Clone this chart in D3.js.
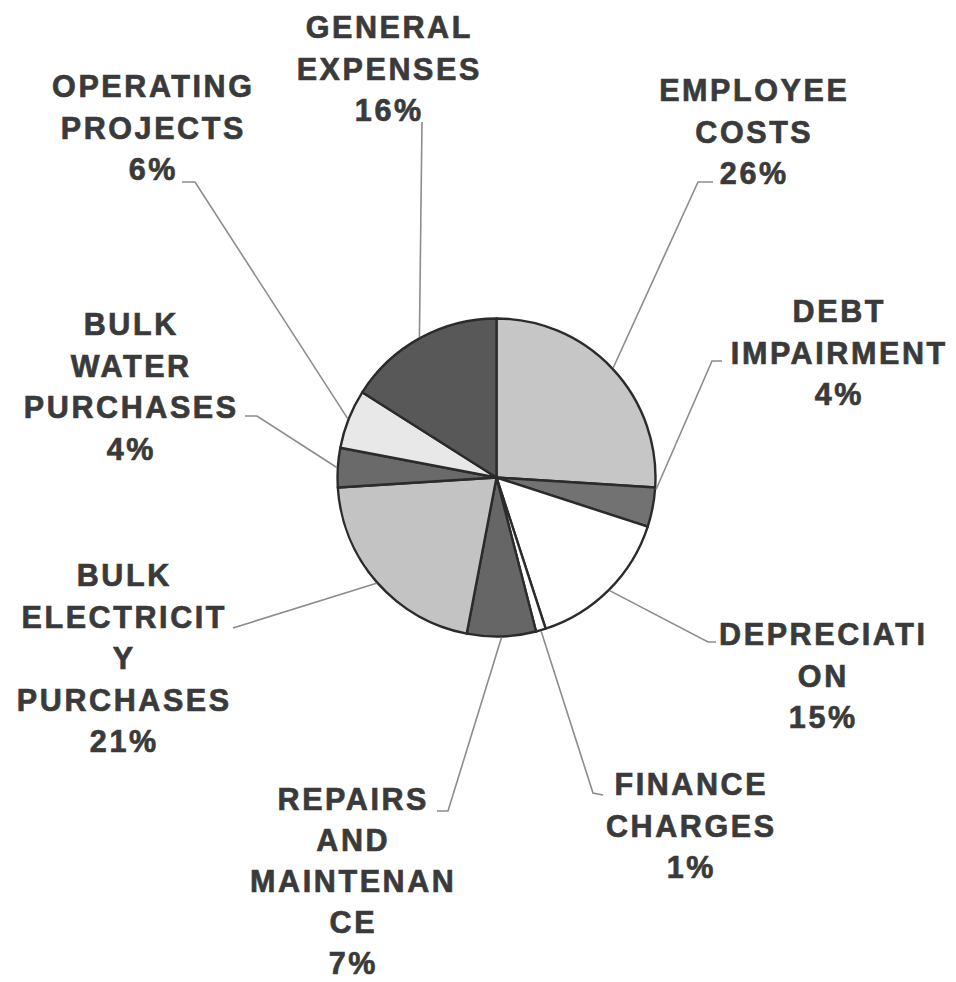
<!DOCTYPE html>
<html>
<head>
<meta charset="utf-8">
<script src="https://cdn.jsdelivr.net/npm/d3@7"></script>
<style>
  html, body { margin: 0; padding: 0; background: #fff; }
  svg { display: block; }
</style>
</head>
<body>
<svg id="chart" width="956" height="982"></svg>
<script>
// ---- data ----
const categories = [
  "EMPLOYEE COSTS", "DEBT IMPAIRMENT", "DEPRECIATION", "FINANCE CHARGES",
  "REPAIRS AND MAINTENANCE", "BULK ELECTRICITY PURCHASES", "BULK WATER PURCHASES",
  "OPERATING PROJECTS", "GENERAL EXPENSES"
];
const values = [26, 4, 15, 1, 7, 21, 4, 6, 16];
// label text as wrapped in the original chart
const labelLines = [
  ["EMPLOYEE", "COSTS"],
  ["DEBT", "IMPAIRMENT"],
  ["DEPRECIATI", "ON"],
  ["FINANCE", "CHARGES"],
  ["REPAIRS", "AND", "MAINTENAN", "CE"],
  ["BULK", "ELECTRICIT", "Y", "PURCHASES"],
  ["BULK", "WATER", "PURCHASES"],
  ["OPERATING", "PROJECTS"],
  ["GENERAL", "EXPENSES"]
];

// ---- styling / layout (not data) ----
const fills = ["#c6c6c6", "#727272", "#ffffff", "#ffffff", "#666666", "#c3c3c3", "#6a6a6a", "#e8e8e8", "#585858"];
const labelX = [753, 838, 822, 690, 352, 123, 130, 152, 388];
const labelY = [101, 322, 645, 795, 810, 586, 335, 97, 38];
const lineGaps = [41.6, 41.6, 41.6, 41.6, 41, 41.6, 41.6, 41.6, 41.6];
const leaderAnchorOffset = [0, -6.5, 0, 0, 0, 0, 0, 0, 0];
const leaderElbows = [
  [[698, 182], [713, 182]],
  [[712, 361], [722, 361]],
  [[708, 642], [716, 642]],
  [[593, 793], [603, 795]],
  [[448, 811], [437, 811]],
  [[233, 628]],
  [[257, 416], [245, 416]],
  [[195, 182], [182, 182]],
  [[422, 122]]
];

const cx = 496.5, cy = 477.5, R = 159;
const svg = d3.select("#chart");
const g = svg.append("g").attr("transform", `translate(${cx},${cy})`);

const pie = d3.pie().sort(null).value(d => d)(values);
const arc = d3.arc().innerRadius(0).outerRadius(R);

g.selectAll("path.slice")
  .data(pie)
  .join("path")
  .attr("class", "slice")
  .attr("d", arc)
  .attr("fill", (d, i) => fills[i])
  .attr("stroke", "#2b2b2b")
  .attr("stroke-width", 2.4)
  .attr("stroke-linejoin", "round");

// leader lines
const line = d3.line();
svg.selectAll("path.leader")
  .data(pie)
  .join("path")
  .attr("class", "leader")
  .attr("d", (d, i) => {
    const a = (d.startAngle + d.endAngle) / 2 + leaderAnchorOffset[i] * Math.PI / 180;
    const p = [cx + (R + 1) * Math.sin(a), cy - (R + 1) * Math.cos(a)];
    return line([p, ...leaderElbows[i]]);
  })
  .attr("fill", "none")
  .attr("stroke", "#8c8c8c")
  .attr("stroke-width", 1.6);

// labels
const fmt = d3.format(".0%");
const total = d3.sum(values);
const labels = svg.selectAll("text.lbl")
  .data(pie)
  .join("text")
  .attr("class", "lbl")
  .attr("text-anchor", "middle")
  .attr("font-family", "'Liberation Sans', Arial, sans-serif")
  .attr("font-weight", "bold")
  .attr("font-size", 30.5)
  .style("letter-spacing", "2.6px")
  .attr("fill", "#3a3a3a")
  .attr("stroke", "#3a3a3a")
  .attr("stroke-width", 0.7);

labels.each(function(d, i) {
  const t = d3.select(this);
  const lines = [...labelLines[i], fmt(d.data / total)];
  lines.forEach((s, k) => {
    t.append("tspan")
      .attr("x", labelX[i] + 1.3)
      .attr("y", labelY[i] + k * lineGaps[i])
      .text(s);
  });
});
</script>
</body>
</html>
